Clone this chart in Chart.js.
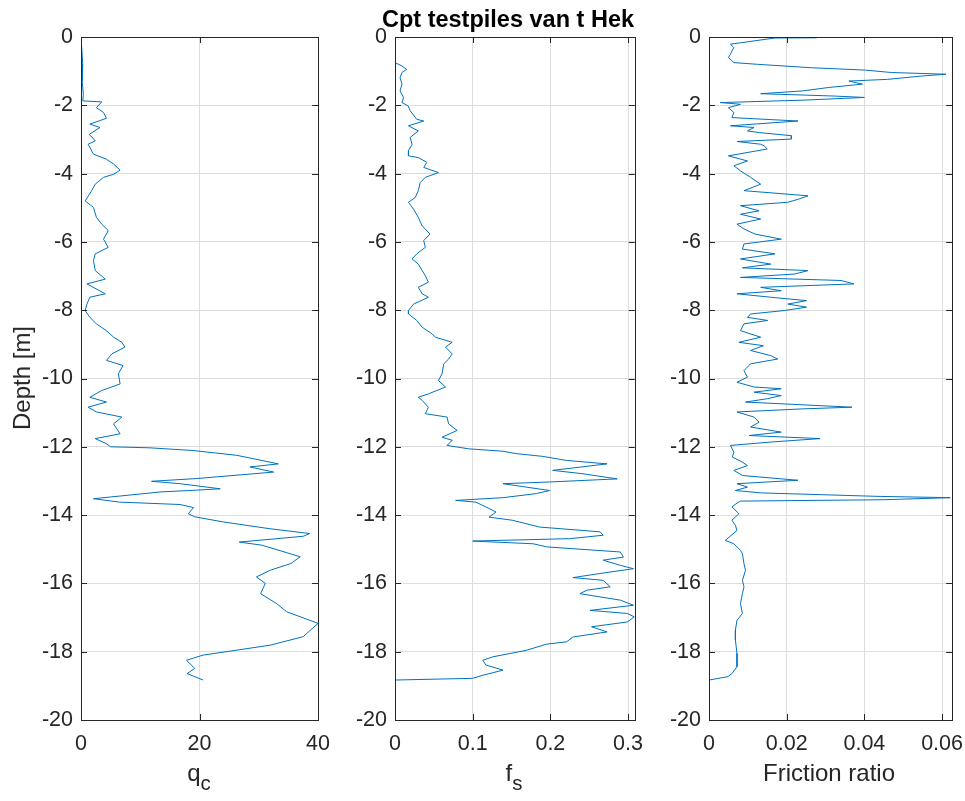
<!DOCTYPE html>
<html>
<head>
<meta charset="utf-8">
<script src="https://cdn.jsdelivr.net/npm/chart.js@4.4.1/dist/chart.umd.min.js"></script>
<style>
  html, body { margin: 0; padding: 0; background: #fff; }
  body { width: 965px; height: 801px; position: relative; overflow: hidden;
         font-family: "Liberation Sans", Arial, Helvetica, sans-serif; color: #262626; }
  .panel { position: absolute; top: 0; }
  .txt { position: absolute; white-space: nowrap; line-height: 1; }
  .title { font-weight: bold; font-size: 23.5px; color: #000; transform: translateX(-50%); }
  .xlab { font-size: 24px; transform: translateX(-50%); }
  .xlab span { font-size: 0.85em; position: relative; top: 0.45em; }
  .ylab { font-size: 24px; transform: translate(-50%, -50%) rotate(-90deg); }
</style>
</head>
<body>
<div class="panel" style="left:0px"><canvas id="cpt_qc" width="341" height="801"></canvas></div>
<div class="panel" style="left:314px"><canvas id="cpt_fs" width="340" height="801"></canvas></div>
<div class="panel" style="left:628px"><canvas id="cpt_fr" width="346" height="801"></canvas></div>

<div class="txt title" style="left:508px; top:8px">Cpt testpiles van t Hek</div>
<div class="txt ylab" style="left:22px; top:378px">Depth [m]</div>
<div class="txt xlab" style="left:199px; top:761px">q<span>c</span></div>
<div class="txt xlab" style="left:514px; top:761px">f<span>s</span></div>
<div class="txt xlab" style="left:829px; top:761px">Friction ratio</div>

<script>
// cone resistance q_c vs depth
const qcDepth = [0, -0.80, -1.29, -1.68, -1.87, -1.90, -2.07, -2.21, -2.38, -2.55,
  -2.65, -2.85, -3.04, -3.14, -3.43, -3.58, -3.72, -3.90, -4.02, -4.11,
  -4.31, -4.50, -4.80, -4.99, -5.28, -5.48, -5.67, -5.92, -6.16, -6.35,
  -6.55, -6.84, -7.09, -7.23, -7.52, -7.62, -7.82, -8.01, -8.21, -8.40,
  -8.60, -8.79, -8.94, -9.08, -9.28, -9.47, -9.62, -9.86, -10.16, -10.35,
  -10.55, -10.69, -10.84, -10.98, -11.13, -11.33, -11.62, -11.76, -11.91, -12.0,
  -12.03, -12.11, -12.25, -12.45, -12.50, -12.59, -12.74, -12.93, -13.01, -13.08,
  -13.23, -13.27, -13.32, -13.52, -13.62, -13.69, -13.78, -13.96, -14.05, -14.2,
  -14.4, -14.54, -14.62, -14.79, -14.88, -15.22, -15.42, -15.61, -15.81, -16.0,
  -16.3, -16.59, -16.83, -17.08, -17.17, -17.56, -17.81, -18.1, -18.25, -18.49,
  -18.64, -18.83];
const qcValue = [0, 0.3, 0.2, 0.4, 0.3, 3.5, 2.6, 3.8, 4.3, 1.5,
  3.2, 1.4, 2.4, 1.2, 2.1, 4.3, 5.5, 6.6, 5.5, 3.8,
  2.4, 1.8, 0.7, 2.1, 2.6, 3.5, 4.6, 3.8, 4.6, 2.4,
  2.1, 2.4, 4.1, 1.0, 4.1, 1.5, 1.0, 0.7, 1.5, 2.6,
  4.3, 5.5, 6.9, 7.4, 5.2, 4.3, 7.1, 6.3, 6.6, 3.5,
  1.5, 4.3, 1.2, 2.6, 6.9, 5.5, 6.6, 2.4, 4.3, 5.0,
  11.6, 19.0, 26.3, 31.9, 33.3, 28.5, 32.5, 19.5, 11.9, 16.7,
  23.5, 19.5, 13.5, 2.1, 6.5, 16.7, 19.0, 18.1, 19.2, 24.0,
  31.9, 38.6, 37.5, 26.7, 30.5, 37.0, 35.4, 32.0, 29.6, 31.1,
  30.3, 33.0, 34.7, 38.6, 40.0, 37.5, 31.9, 20.6, 17.8, 19.2,
  17.9, 20.6];

// sleeve friction f_s vs depth
const fsDepth = [0, -0.75, -0.85, -0.95, -1.04, -1.19, -1.38, -1.58, -1.77, -1.92,
  -2.02, -2.16, -2.41, -2.46, -2.60, -2.75, -2.94, -3.14, -3.33, -3.48,
  -3.53, -3.67, -3.82, -3.97, -4.11, -4.26, -4.50, -4.70, -4.84, -5.04,
  -5.28, -5.53, -5.77, -5.96, -6.16, -6.35, -6.50, -6.65, -6.84, -6.99,
  -7.18, -7.33, -7.52, -7.62, -7.82, -8.01, -8.11, -8.30, -8.50, -8.69,
  -8.79, -8.94, -9.08, -9.28, -9.43, -9.57, -9.86, -10.06, -10.25, -10.45,
  -10.55, -10.64, -10.84, -11.03, -11.13, -11.33, -11.52, -11.72, -11.81, -11.96,
  -12.06, -12.13, -12.20, -12.28, -12.40, -12.50, -12.69, -12.79, -12.94, -13.03,
  -13.08, -13.18, -13.28, -13.37, -13.49, -13.57, -13.62, -13.76, -13.91, -14.06,
  -14.15, -14.35, -14.49, -14.59, -14.69, -14.76, -14.84, -14.93, -15.08, -15.23,
  -15.32, -15.47, -15.57, -15.71, -15.83, -15.91, -16.10, -16.20, -16.30, -16.49,
  -16.64, -16.79, -16.88, -16.98, -17.13, -17.27, -17.42, -17.57, -17.71, -17.78,
  -17.96, -18.15, -18.25, -18.39, -18.54, -18.69, -18.78, -18.83];
const fsValue = [0, 0, 0.009, 0.015, 0.009, 0.0065, 0.009, 0.0065, 0.011, 0.009,
  0.017, 0.0195, 0.028, 0.037, 0.0173, 0.030, 0.0195, 0.022, 0.0173, 0.0173,
  0.030, 0.041, 0.037, 0.056, 0.039, 0.0325, 0.030, 0.026, 0.0173, 0.0238,
  0.030, 0.035, 0.045, 0.037, 0.039, 0.028, 0.022, 0.030, 0.035, 0.039,
  0.043, 0.030, 0.035, 0.043, 0.024, 0.0173, 0.0173, 0.028, 0.035, 0.0476,
  0.052, 0.0736, 0.065, 0.0736, 0.069, 0.0628, 0.0606, 0.056, 0.065, 0.043,
  0.030, 0.035, 0.043, 0.039, 0.067, 0.069, 0.080, 0.0606, 0.0736, 0.067,
  0.095, 0.139, 0.156, 0.19, 0.221, 0.273, 0.203, 0.242, 0.286, 0.199,
  0.139, 0.169, 0.199, 0.182, 0.139, 0.078, 0.104, 0.117, 0.130, 0.121,
  0.151, 0.186, 0.264, 0.268, 0.225, 0.100, 0.178, 0.195, 0.290, 0.294,
  0.268, 0.290, 0.307, 0.264, 0.229, 0.268, 0.277, 0.247, 0.238, 0.290,
  0.307, 0.251, 0.299, 0.308, 0.299, 0.253, 0.273, 0.229, 0.221, 0.195,
  0.169, 0.126, 0.113, 0.117, 0.139, 0.113, 0.100, 0];

// friction ratio vs depth
const frDepth = [0, -0.02, -0.03, -0.17, -0.21, -0.31, -0.41, -0.51, -0.60, -0.75,
  -0.80, -0.90, -0.97, -1.04, -1.09, -1.14, -1.24, -1.29, -1.38, -1.48,
  -1.58, -1.66, -1.73, -1.77, -1.85, -1.92, -1.97, -2.07, -2.21, -2.36,
  -2.46, -2.60, -2.65, -2.75, -2.80, -2.89, -2.99, -3.06, -3.14, -3.19,
  -3.28, -3.48, -3.63, -3.77, -3.92, -4.11, -4.31, -4.50, -4.65, -4.75,
  -4.84, -4.94, -5.09, -5.19, -5.33, -5.48, -5.62, -5.77, -5.92, -6.06,
  -6.21, -6.35, -6.50, -6.65, -6.76, -6.84, -6.94, -7.04, -7.13, -7.23,
  -7.33, -7.43, -7.52, -7.62, -7.72, -7.82, -7.91, -8.01, -8.11, -8.21,
  -8.30, -8.40, -8.60, -8.79, -8.94, -9.04, -9.18, -9.33, -9.43, -9.57,
  -9.77, -9.96, -10.11, -10.25, -10.30, -10.40, -10.50, -10.59, -10.69, -10.84,
  -10.89, -10.98, -11.13, -11.28, -11.42, -11.57, -11.67, -11.76, -11.86, -11.96,
  -12.16, -12.30, -12.45, -12.55, -12.69, -12.84, -12.98, -13.08, -13.18, -13.28,
  -13.35, -13.39, -13.45, -13.49, -13.55, -13.59, -13.65, -13.76, -13.96, -14.15,
  -14.30, -14.45, -14.74, -14.84, -15.03, -15.13, -15.42, -15.62, -15.91, -16.10,
  -16.30, -16.59, -16.88, -17.08, -17.37, -17.66, -18.05, -18.44, -18.64, -18.73,
  -18.83];
const frValue = [0, 0.0277, 0.0169, 0.0081, 0.0055, 0.0064, 0.0059, 0.0055, 0.005, 0.0064,
  0.0125, 0.0264, 0.0403, 0.047, 0.061, 0.055, 0.046, 0.036, 0.0395, 0.0307,
  0.024, 0.0133, 0.0325, 0.040, 0.024, 0.0029, 0.0081, 0.005, 0.0064, 0.0059,
  0.0229, 0.0055, 0.0116, 0.0099, 0.013, 0.0212, 0.0212, 0.0072, 0.0133, 0.0142,
  0.015, 0.005, 0.0099, 0.0064, 0.0081, 0.0107, 0.0133, 0.009, 0.0255, 0.023,
  0.0203, 0.0081, 0.0129, 0.0081, 0.0133, 0.0072, 0.009, 0.0118, 0.0186, 0.009,
  0.0086, 0.017, 0.0081, 0.0159, 0.0086, 0.0255, 0.0221, 0.0081, 0.034, 0.0373,
  0.0133, 0.0186, 0.0072, 0.0159, 0.0251, 0.0203, 0.0251, 0.0194, 0.0107, 0.0099,
  0.0151, 0.009, 0.0081, 0.0133, 0.0077, 0.014, 0.0107, 0.0159, 0.0177, 0.0107,
  0.009, 0.0099, 0.0072, 0.0116, 0.0186, 0.0116, 0.0186, 0.0151, 0.0094, 0.0368,
  0.024, 0.0072, 0.0116, 0.0129, 0.0107, 0.0186, 0.0103, 0.0286, 0.016, 0.0055,
  0.0064, 0.006, 0.0086, 0.0099, 0.0064, 0.0086, 0.0229, 0.0072, 0.0099, 0.0068,
  0.0133, 0.0255, 0.043, 0.0621, 0.045, 0.0081, 0.0072, 0.0059, 0.0077, 0.0059,
  0.0068, 0.0072, 0.0042, 0.0064, 0.0081, 0.0086, 0.009, 0.0094, 0.0086, 0.009,
  0.0086, 0.0081, 0.0086, 0.0072, 0.0068, 0.0068, 0.0072, 0.0072, 0.0059, 0.0049,
  0];

const LINE_COLOR = '#0072BD';
const AXIS_COLOR = '#262626';
const TICK_LEN = 6;
const FONT = '"Liberation Sans", Arial, Helvetica, sans-serif';

// matlab style box with inward ticks on all four sides
const matlabBox = {
  id: 'matlabBox',
  afterDraw(chart) {
    const { ctx, chartArea: a, scales } = chart;
    ctx.save();
    ctx.strokeStyle = AXIS_COLOR;
    ctx.lineWidth = 1;
    ctx.beginPath();
    scales.x.ticks.forEach(t => {
      const px = Math.round(scales.x.getPixelForValue(t.value)) + 0.5;
      ctx.moveTo(px, a.bottom); ctx.lineTo(px, a.bottom - TICK_LEN);
      ctx.moveTo(px, a.top); ctx.lineTo(px, a.top + TICK_LEN);
    });
    scales.y.ticks.forEach(t => {
      const py = Math.round(scales.y.getPixelForValue(t.value)) + 0.5;
      ctx.moveTo(a.left, py); ctx.lineTo(a.left + TICK_LEN, py);
      ctx.moveTo(a.right, py); ctx.lineTo(a.right - TICK_LEN, py);
    });
    ctx.stroke();
    ctx.strokeRect(Math.round(a.left) + 0.5, Math.round(a.top) + 0.5,
      Math.round(a.right - a.left), Math.round(a.bottom - a.top));
    ctx.restore();
  }
};

function makePanel(id, depth, values, xMax, xStep) {
  const pts = depth.map((d, i) => ({ x: values[i], y: d }));
  return new Chart(document.getElementById(id), {
    type: 'scatter',
    data: {
      datasets: [{
        data: pts,
        showLine: true,
        borderColor: LINE_COLOR,
        borderWidth: 1,
        pointRadius: 0,
        tension: 0,
      }]
    },
    options: {
      responsive: false,
      animation: false,
      layout: {
        padding: { top: 37, right: 0, bottom: 0, left: 0 }
      },
      scales: {
        x: {
          min: 0,
          max: xMax,
          afterFit: (s) => { s.height = 81; },
          grid: { color: '#dedede', drawTicks: false },
          border: { display: false },
          ticks: {
            stepSize: xStep,
            includeBounds: false,
            padding: 11,
            color: AXIS_COLOR,
            maxRotation: 0,
            font: { family: FONT, size: 21.5 },
            callback: (v) => String(Number(v.toFixed(3))),
          }
        },
        y: {
          min: -20,
          max: 0,
          afterFit: (s) => { s.width = 81; },
          grid: { color: '#dedede', drawTicks: false },
          border: { display: false },
          ticks: {
            stepSize: 2,
            padding: 8,
            color: AXIS_COLOR,
            font: { family: FONT, size: 21.5 },
          }
        }
      },
      plugins: {
        legend: { display: false },
        tooltip: { enabled: false },
      }
    },
    plugins: [matlabBox],
  });
}

const chart_qc = makePanel('cpt_qc', qcDepth, qcValue, 40, 20);
const chart_fs = makePanel('cpt_fs', fsDepth, fsValue, 0.3086, 0.1);
const chart_fr = makePanel('cpt_fr', frDepth, frValue, 0.0626, 0.02);
</script>
</body>
</html>
